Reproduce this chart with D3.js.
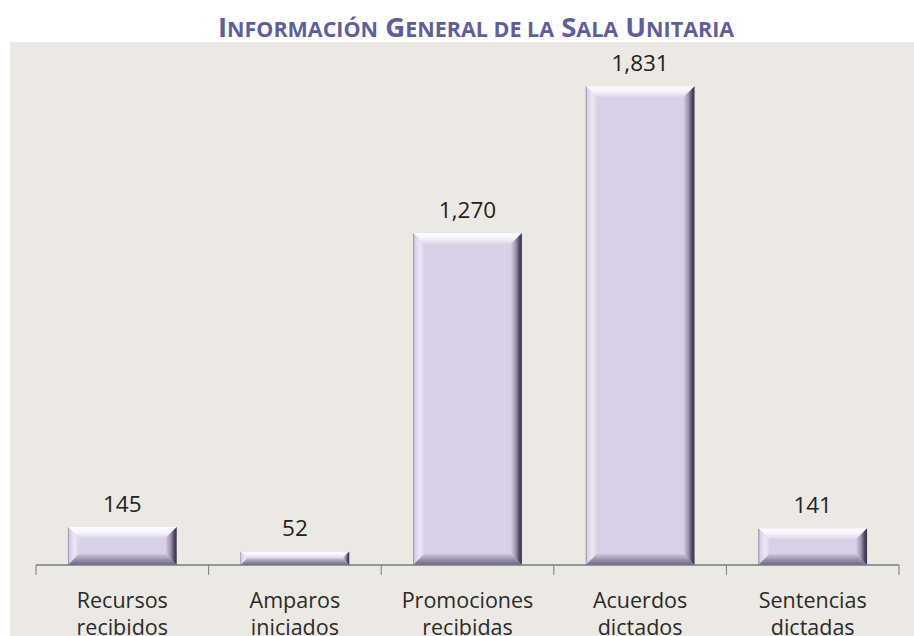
<!DOCTYPE html>
<html><head><meta charset="utf-8">
<script src="https://cdn.jsdelivr.net/npm/d3@7"></script>
<style>
html,body{margin:0;padding:0;background:#fff;}
svg{display:block;}
</style></head>
<body>
<svg id="chart" width="914" height="636"></svg>
<script>
const categories = [["Recursos","recibidos"],["Amparos","iniciados"],["Promociones","recibidas"],["Acuerdos","dictados"],["Sentencias","dictadas"]];
const values = [145, 52, 1270, 1831, 141];
const valueLabels = ["145","52","1,270","1,831","141"];
const titleWords = ["Información","General","de","la","Sala","Unitaria"];

const W = 914, H = 636;
const svg = d3.select("#chart");
const defs = svg.append("defs");

// plot background
svg.append("rect").attr("x",10).attr("y",42).attr("width",W-10).attr("height",H-42).attr("fill","#ece9e4");

// title with manual small caps
const tt = svg.append("text").attr("x",476).attr("y",37).attr("text-anchor","middle")
  .style("font-family","'Open Sans'").style("font-weight","700").attr("fill","#5e5e9b");
titleWords.forEach((w,i)=>{
  const first = w[0], rest = w.slice(1);
  const isCap = first === first.toUpperCase();
  const sp = (i>0 ? " " : "");
  if (isCap) {
    tt.append("tspan").style("font-size","27.5px").text(sp + first);
    tt.append("tspan").style("font-size","21.5px").text(rest.toUpperCase());
  } else {
    tt.append("tspan").style("font-size","21.5px").text(sp + w.toUpperCase());
  }
});

const x = d3.scaleBand().domain(d3.range(values.length)).range([36, 899]).paddingInner(0.37).paddingOuter(0.185);
const xb = d3.scaleBand().domain(d3.range(values.length)).range([36, 899]);
const y = d3.scaleLinear().domain([0, 2000]).range([565, 42]);

function grad(id, x1,y1,x2,y2, stops){
  const g = defs.append("linearGradient").attr("id",id).attr("x1",x1).attr("y1",y1).attr("x2",x2).attr("y2",y2);
  stops.forEach(s=>g.append("stop").attr("offset",s[0]).attr("stop-color",s[1]));
}
grad("gTop",0,0,0,1,[[0,"#fdfcff"],[0.5,"#f6f2fb"],[1,"#ddd5ea"]]);
grad("gLeft",0,0,1,0,[[0,"#8c84a0"],[0.15,"#d8d0e6"],[0.6,"#ece7f4"],[1,"#dcd4e9"]]);
grad("gRight",0,0,1,0,[[0,"#d6cde4"],[0.45,"#9c93ae"],[0.75,"#544d69"],[1,"#35304a"]]);
grad("gBot",0,0,0,1,[[0,"#cfc6dd"],[0.5,"#9b92ac"],[1,"#6f6782"]]);

const axisColor = "#7a7a7a";
const gBars = svg.append("g");
values.forEach((v,i)=>{
  const x0 = x(i), x1 = x(i)+x.bandwidth(), y0 = y(v), y1 = y(0);
  const h = y1 - y0;
  const b = Math.min(11, h/2);
  const g = gBars.append("g");
  g.append("rect").attr("x",x0).attr("y",y0).attr("width",x1-x0).attr("height",h).attr("fill","#d9d0e7");
  const poly = (pts, fill)=>g.append("polygon").attr("points",pts.map(p=>p.join(",")).join(" ")).attr("fill",fill);
  poly([[x0,y0],[x1,y0],[x1-b,y0+b],[x0+b,y0+b]],"url(#gTop)");
  poly([[x0,y0],[x0+b,y0+b],[x0+b,y1-b],[x0,y1]],"url(#gLeft)");
  poly([[x0,y1],[x1,y1],[x1-b,y1-b],[x0+b,y1-b]],"url(#gBot)");
  poly([[x1,y0],[x1,y1],[x1-b,y1-b],[x1-b,y0+b]],"url(#gRight)");
  svg.append("text").attr("x",(x0+x1)/2).attr("y",y0-15).attr("text-anchor","middle")
    .style("font-family","'Open Sans'").style("font-size","22.5px").attr("fill","#222").text(valueLabels[i]);
});

// axis
const axisG = svg.append("g").attr("transform","translate(0,565)");
axisG.append("line").attr("x1",36).attr("x2",899).attr("stroke",axisColor).attr("stroke-width",1.5);
const tickPos = xb.domain().map(d=>xb(d)).concat([899]);
axisG.selectAll(".tk").data(tickPos).join("line").attr("x1",d=>d).attr("x2",d=>d).attr("y1",0).attr("y2",10)
  .attr("stroke",axisColor).attr("stroke-width",1);

const lab = svg.append("g");
categories.forEach((c,i)=>{
  const t = lab.append("text").attr("text-anchor","middle").attr("x",xb(i)+xb.bandwidth()/2)
    .style("font-family","'Open Sans'").style("font-size","21.5px").attr("fill","#2a2a2a");
  c.forEach((s,j)=>t.append("tspan").attr("x",xb(i)+xb.bandwidth()/2).attr("y",608+j*27).text(s));
});
</script>
</body></html>
